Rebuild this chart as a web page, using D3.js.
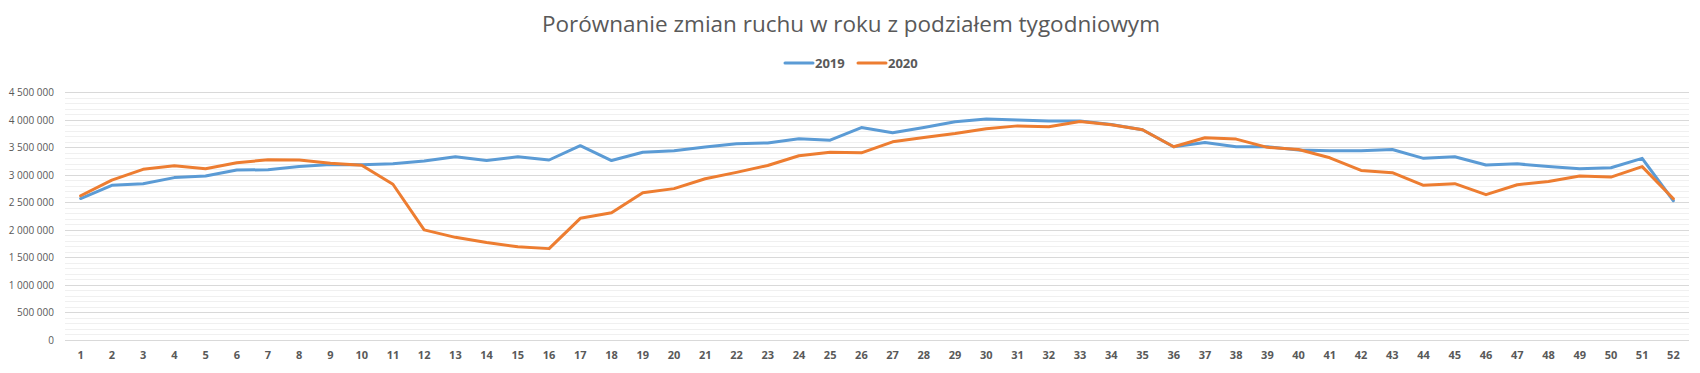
<!DOCTYPE html>
<html>
<head>
<meta charset="utf-8">
<script src="https://cdn.jsdelivr.net/npm/d3@7"></script>
<style>
  body { margin: 0; background: #fff; }
  svg { display: block; }
  text { fill: #595959; }
</style>
</head>
<body>
<div id="chart"></div>
<script>
var weeks = d3.range(1, 53);
var traffic2019 = [
    2570000, 2810000, 2840000, 2950000, 2980000, 3087000, 3093000, 3150000, 3190000, 3184000,
    3200000, 3250000, 3330000, 3260000, 3330000, 3270000, 3530000, 3260000, 3410000, 3440000,
    3505000, 3565000, 3580000, 3656000, 3630000, 3860000, 3765000, 3860000, 3965000, 4013000,
    3995000, 3977000, 3977000, 3916000, 3820000, 3510000, 3590000, 3510000, 3510000, 3450000,
    3440000, 3440000, 3460000, 3300000, 3330000, 3180000, 3200000, 3150000, 3110000, 3130000,
    3300000, 2530000
];
var traffic2020 = [
    2620000, 2905000, 3100000, 3166000, 3110000, 3220000, 3275000, 3270000, 3210000, 3175000,
    2830000, 2000000, 1865000, 1770000, 1695000, 1660000, 2210000, 2310000, 2675000, 2750000,
    2930000, 3045000, 3170000, 3347000, 3410000, 3400000, 3600000, 3680000, 3750000, 3838000,
    3890000, 3874000, 3970000, 3910000, 3820000, 3510000, 3674000, 3650000, 3500000, 3460000,
    3310000, 3080000, 3040000, 2810000, 2840000, 2640000, 2820000, 2880000, 2980000, 2960000,
    3150000, 2566000
];
var seriesNames = ["2019", "2020"];
var colors = ["#5B9BD5", "#ED7D31"];
var yMax = 4500000;

var width = 1700,
    height = 373,
    margin = { top: 92.3, right: 11, bottom: 33, left: 65 };

var plLocale = d3.formatLocale({ decimal: ",", thousands: " ", grouping: [3], currency: ["", ""] });
var fmt = plLocale.format(",");

var svg = d3.select("#chart").append("svg").attr("width", width).attr("height", height);

var x = d3.scaleBand().domain(weeks).range([margin.left, width - margin.right]).padding(0);
var y = d3.scaleLinear().domain([0, yMax]).range([height - margin.bottom, margin.top]);

// minor gridlines, every 100 000
svg.append("g").selectAll("line").data(d3.range(0, yMax + 1, 100000)).enter().append("line")
    .attr("x1", margin.left).attr("x2", width - margin.right)
    .attr("y1", function(d) { return Math.round(y(d)) + 0.5; })
    .attr("y2", function(d) { return Math.round(y(d)) + 0.5; })
    .attr("stroke", "#f0f0f0").attr("stroke-width", 1);

// major gridlines
svg.append("g").selectAll("line").data(y.ticks(9)).enter().append("line")
    .attr("x1", margin.left).attr("x2", width - margin.right)
    .attr("y1", function(d) { return Math.round(y(d)) + 0.5; })
    .attr("y2", function(d) { return Math.round(y(d)) + 0.5; })
    .attr("stroke", "#d9d9d9").attr("stroke-width", 1);

var yAxis = d3.axisLeft(y).tickValues(d3.range(0, yMax + 1, 500000)).tickFormat(fmt).tickSize(0).tickPadding(11);
svg.append("g").attr("transform", "translate(" + margin.left + ",0)").call(yAxis)
    .call(function(g) { g.select(".domain").remove(); })
    .selectAll("text").style("font-family", "'Open Sans', sans-serif").style("font-size", "10px").attr("fill", "#595959");

var xAxis = d3.axisBottom(x).tickSize(0).tickPadding(11);
svg.append("g").attr("transform", "translate(0," + (height - margin.bottom) + ")").call(xAxis)
    .call(function(g) { g.select(".domain").remove(); })
    .selectAll("text").style("font-family", "'Open Sans', sans-serif").style("font-size", "11px").style("font-weight", "bold").attr("fill", "#595959");

var line = d3.line()
    .x(function(d, i) { return x(weeks[i]) + x.bandwidth() / 2; })
    .y(function(d) { return y(d); });

[traffic2019, traffic2020].forEach(function(series, i) {
    svg.append("path").datum(series)
        .attr("fill", "none")
        .attr("stroke", colors[i])
        .attr("stroke-width", 3)
        .attr("stroke-linejoin", "round")
        .attr("stroke-linecap", "round")
        .attr("d", line);
});

// title
svg.append("text").attr("x", 851).attr("y", 32).attr("text-anchor", "middle")
    .style("font-family", "'Open Sans', sans-serif").style("font-weight", 400).style("font-size", "22.5px")
    .text("Porównanie zmian ruchu w roku z podziałem tygodniowym");

// legend
var legend = svg.append("g").selectAll("g").data(seriesNames).enter().append("g")
    .attr("transform", function(d, i) { return "translate(" + (785 + i * 73) + ",63)"; });
legend.append("line").attr("x1", 0).attr("x2", 28).attr("y1", 0).attr("y2", 0)
    .attr("stroke", function(d, i) { return colors[i]; }).attr("stroke-width", 3).attr("stroke-linecap", "round");
legend.append("text").attr("x", 30).attr("y", 5)
    .style("font-family", "'Open Sans', sans-serif").style("font-weight", "bold").style("font-size", "13px")
    .text(function(d) { return d; });
</script>
</body>
</html>
